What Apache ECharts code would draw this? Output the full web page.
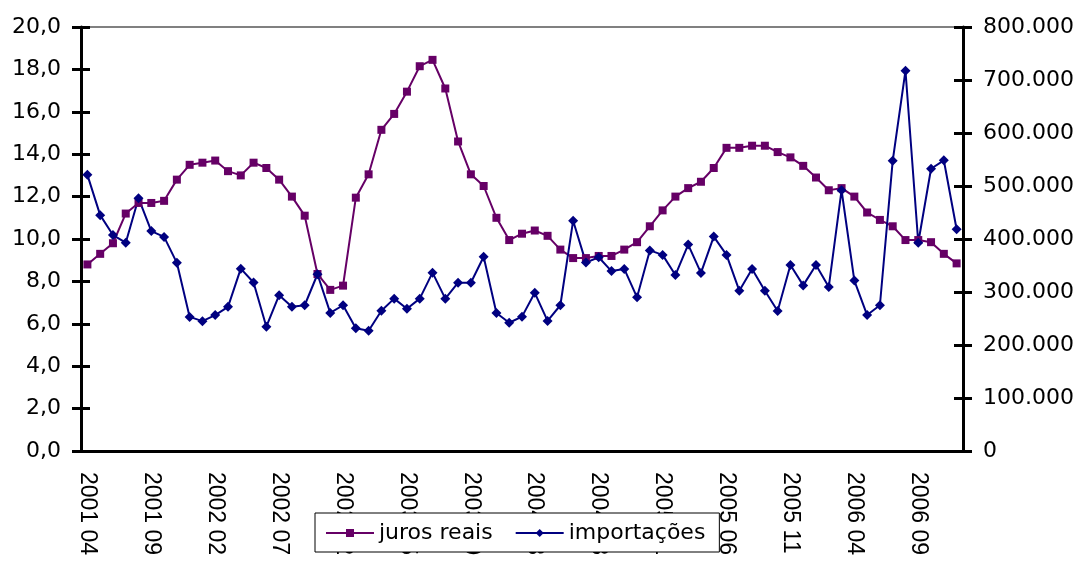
<!DOCTYPE html>
<html>
<head>
<meta charset="utf-8">
<script src="https://cdn.jsdelivr.net/npm/echarts@6/dist/echarts.min.js"></script>
<style>
  html, body { margin: 0; padding: 0; background: #fff; }
  #main { width: 1077px; height: 561px; }
</style>
</head>
<body>
<div id="main"></div>
<script>
// monthly labels, 2001 04 .. 2006 12
const months = [];
for (let y = 2001; y <= 2006; y++) {
  for (let m = 1; m <= 12; m++) {
    if (y === 2001 && m < 4) continue;
    months.push(y + ' ' + String(m).padStart(2, '0'));
  }
}

const juros = [
  8.8, 9.3, 9.8, 11.2, 11.7, 11.7, 11.8, 12.8, 13.5, 13.6,
  13.7, 13.2, 13.0, 13.6, 13.35, 12.8, 12.0, 11.1, 8.35, 7.6,
  7.8, 11.95, 13.05, 15.15, 15.9, 16.95, 18.15, 18.45, 17.1, 14.6,
  13.05, 12.5, 11.0, 9.95, 10.25, 10.4, 10.15, 9.5, 9.1, 9.1,
  9.2, 9.2, 9.5, 9.85, 10.6, 11.35, 12.0, 12.4, 12.7, 13.35,
  14.3, 14.3, 14.4, 14.4, 14.1, 13.85, 13.45, 12.9, 12.3, 12.4,
  12.0, 11.25, 10.9, 10.6, 9.95, 9.95, 9.85, 9.3, 8.85
];

const importacoes = [
  521000, 445000, 407500, 393000, 477000, 415000, 404000, 355000, 253000, 245000,
  256500, 272000, 344000, 318000, 234500, 294000, 272000, 275000, 333500, 260500,
  275000, 231500, 227000, 264500, 287500, 268500, 287500, 336500, 287500, 317500,
  317500, 366500, 260500, 242000, 253500, 298500, 245500, 275000, 434500, 355500,
  365500, 339500, 343500, 290000, 378500, 370000, 332000, 389500, 336000, 404500,
  370000, 302500, 343500, 302500, 264000, 351000, 312500, 351000, 309500, 492000,
  321500, 256500, 275000, 547500, 717500, 393000, 532500, 548500, 418500
];

const FONT = 'DejaVu Sans';
const tickStyle = { color: '#000', width: 3 };

const myChart = echarts.init(document.getElementById('main'));

const option = {
  animation: false,
  backgroundColor: '#fff',
  textStyle: { fontFamily: FONT },
  grid: {
    left: 81, right: 114, top: 27, bottom: 110,
    show: true, borderColor: '#808080', borderWidth: 2, backgroundColor: '#fff'
  },
  legend: {
    left: 315, top: 513,
    padding: [9, 14, 8, 10],
    itemGap: 22,
    itemWidth: 48,
    itemHeight: 10,
    backgroundColor: '#fff',
    borderColor: '#000',
    borderWidth: 1,
    textStyle: { fontFamily: FONT, fontSize: 22, color: '#000' },
    data: ['juros reais', 'importações']
  },
  xAxis: [
    {
      type: 'category',
      data: months,
      boundaryGap: true,
      axisLine: { lineStyle: { color: '#000', width: 3 } },
      axisTick: { interval: 4, length: 9, lineStyle: tickStyle },
      axisLabel: {
        interval: 4, rotate: -90, margin: 21,
        fontFamily: 'Liberation Sans', fontSize: 23, color: '#000'
      },
      splitLine: { show: false }
    },
    {
      type: 'category',
      data: months,
      position: 'bottom',
      boundaryGap: true,
      axisLine: { show: false },
      axisTick: { inside: true, interval: 4, length: 9, lineStyle: tickStyle },
      axisLabel: { show: false },
      splitLine: { show: false }
    }
  ],
  yAxis: [
    {
      type: 'value', position: 'left', min: 0, max: 20, interval: 2,
      axisLine: { show: true, lineStyle: { color: '#000', width: 3 } },
      axisTick: { show: true, length: 9, lineStyle: tickStyle },
      axisLabel: {
        margin: 20, fontSize: 22, color: '#000',
        formatter: v => v.toFixed(1).replace('.', ',')
      },
      splitLine: { show: false }
    },
    {
      type: 'value', position: 'left', min: 0, max: 20, interval: 2,
      axisLine: { show: false },
      axisTick: { show: true, inside: true, length: 9, lineStyle: tickStyle },
      axisLabel: { show: false },
      splitLine: { show: false }
    },
    {
      type: 'value', position: 'right', min: 0, max: 800000, interval: 100000,
      axisLine: { show: true, lineStyle: { color: '#000', width: 3 } },
      axisTick: { show: true, length: 9, lineStyle: tickStyle },
      axisLabel: {
        margin: 20, fontSize: 22, color: '#000',
        formatter: v => String(v).replace(/\B(?=(\d{3})+(?!\d))/g, '.')
      },
      splitLine: { show: false }
    },
    {
      type: 'value', position: 'right', min: 0, max: 800000, interval: 100000,
      axisLine: { show: false },
      axisTick: { show: true, inside: true, length: 9, lineStyle: tickStyle },
      axisLabel: { show: false },
      splitLine: { show: false }
    }
  ],
  series: [
    {
      name: 'juros reais',
      type: 'line',
      yAxisIndex: 0,
      data: juros,
      symbol: 'rect',
      symbolSize: 8,
      showAllSymbol: true,
      lineStyle: { color: '#660066', width: 2 },
      itemStyle: { color: '#660066' }
    },
    {
      name: 'importações',
      type: 'line',
      yAxisIndex: 2,
      data: importacoes,
      symbol: 'diamond',
      symbolSize: 10,
      showAllSymbol: true,
      lineStyle: { color: '#000080', width: 2 },
      itemStyle: { color: '#000080' }
    }
  ]
};

myChart.setOption(option);
</script>
</body>
</html>
